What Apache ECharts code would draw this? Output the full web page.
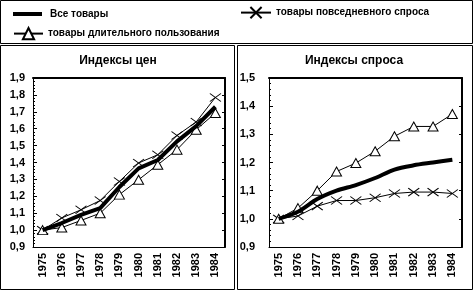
<!DOCTYPE html>
<html><head><meta charset="utf-8">
<script src="https://cdn.jsdelivr.net/npm/echarts@6/dist/echarts.min.js"></script>
<style>html,body{margin:0;padding:0;background:#fff}#c{width:473px;height:290px}</style>
</head><body><div id="c"></div>
<script>
const years = ['1975','1976','1977','1978','1979','1980','1981','1982','1983','1984'];
const seriesNames = ['Все товары','товары повседневного спроса','товары длительного пользования'];
const titles = ['Индексы цен','Индексы спроса'];
// Price indices
const priceAll   = [1.00,1.042,1.09,1.13,1.255,1.365,1.415,1.525,1.615,1.73];
const priceDaily = [1.00,1.072,1.12,1.175,1.288,1.397,1.446,1.56,1.64,1.785];
const priceDurable=[1.00,1.015,1.057,1.10,1.21,1.298,1.387,1.476,1.594,1.693];
// Demand indices
const demandAll   = [1.00,1.025,1.07,1.10,1.12,1.145,1.175,1.19,1.20,1.21];
const demandDaily = [1.00,1.01,1.045,1.065,1.065,1.075,1.09,1.095,1.095,1.09];
const demandDurable=[1.00,1.038,1.10,1.168,1.198,1.24,1.293,1.328,1.328,1.372];
const priceAxis = {min:0.9,max:1.9,step:0.1};
const demandAxis = {min:0.9,max:1.5,step:0.1};

const FONT = 'Arial, "Liberation Sans", sans-serif';
const chart = echarts.init(document.getElementById('c'), null, {renderer:'canvas'});
const xSym = 'path://M0,0L10,7M10,0L0,7';
function grids(){ return [
  {left:33, top:78, width:192, height:169},
  {left:269, top:78, width:193, height:169}
];}
function xAxes(){
  const a=[];
  [0,1].forEach(g=>{
    a.push({type:'category', gridIndex:g, data:years, boundaryGap:true,
      axisLine:{lineStyle:{color:'#000',width:1}},
      axisTick:{alignWithLabel:true, length:4, lineStyle:{color:'#000'}},
      axisLabel:{rotate:90, margin:6, color:'#000', fontSize:11, fontWeight:'bold', fontFamily:FONT}});
    a.push({type:'category', gridIndex:g, position:'top', data:years, boundaryGap:true,
      axisLine:{lineStyle:{color:'#000',width:2}},
      axisTick:{alignWithLabel:true, inside:true, length:3, lineStyle:{color:'#000'}},
      axisLabel:{show:false}});
  });
  return a;
}
function fmt(v){return v.toFixed(1).replace('.',',');}
function yAxes(){
  const a=[];
  [[0,priceAxis,8],[1,demandAxis,14]].forEach(([g,ax,m])=>{
    a.push({type:'value', gridIndex:g, min:ax.min, max:ax.max, interval:ax.step,
      axisLine:{show:true, lineStyle:{color:'#000',width:1}},
      axisTick:{show:true, inside:true, length:4, lineStyle:{color:'#000'}},
      minorTick:{show:true, splitNumber:5, length:2, lineStyle:{color:'#000'}},
      splitLine:{show:false},
      axisLabel:{margin:m, color:'#000', fontSize:11, fontWeight:'bold', fontFamily:FONT, formatter:fmt}});
    a.push({type:'value', gridIndex:g, position:'right', min:ax.min, max:ax.max, interval:ax.step,
      axisLine:{show:true, lineStyle:{color:'#000',width:2}},
      axisTick:{show:true, inside:true, length:3, lineStyle:{color:'#000'}},
      splitLine:{show:false}, axisLabel:{show:false}});
  });
  return a;
}
function mk(name, data, g, kind){
  const s = {name, type:'line', data, xAxisIndex:g*2, yAxisIndex:g*2, animation:false};
  if(kind==='all'){
    Object.assign(s,{symbol:'none', lineStyle:{color:'#000', width:4}, itemStyle:{color:'#000'}, z:5, smooth: g===1 ? 0.3 : false});
  } else if(kind==='daily'){
    Object.assign(s,{symbol:xSym, symbolSize:[11,8], showAllSymbol:true,
      lineStyle:{color:'#000', width:1}, itemStyle:{color:'#000', borderColor:'#000', borderWidth:1}, z:3});
  } else {
    Object.assign(s,{symbol:'triangle', symbolSize:[10,9], showAllSymbol:true,
      lineStyle:{color:'#000', width:1}, itemStyle:{color:'#fff', borderColor:'#000', borderWidth:1}, z:4});
  }
  return s;
}
const legendText = {color:'#000', fontSize:10, fontWeight:'bold', fontFamily:FONT};
chart.setOption({
  backgroundColor:'#fff',
  animation:false,
  legend:[
    {left:13, top:9, padding:0, itemWidth:29, itemHeight:4, icon:'rect', itemGap:8, data:[seriesNames[0]], textStyle:Object.assign({padding:[0,0,0,3]},legendText), selectedMode:false},
    {left:13, top:27, padding:0, itemWidth:29, itemHeight:14, data:[seriesNames[2]], textStyle:legendText, selectedMode:false},
    {left:240, top:6, padding:0, itemWidth:30, itemHeight:14, data:[seriesNames[1]], textStyle:legendText, selectedMode:false}
  ],
  grid:grids(), xAxis:xAxes(), yAxis:yAxes(),
  series:[
    mk(seriesNames[1], priceDaily, 0, 'daily'),
    mk(seriesNames[2], priceDurable, 0, 'durable'),
    mk(seriesNames[0], priceAll, 0, 'all'),
    mk(seriesNames[1], demandDaily, 1, 'daily'),
    mk(seriesNames[2], demandDurable, 1, 'durable'),
    mk(seriesNames[0], demandAll, 1, 'all')
  ],
  graphic:[
    {type:'rect', shape:{x:0.5,y:0.5,width:472,height:43}, style:{fill:'none', stroke:'#000', lineWidth:1}, silent:true},
    {type:'rect', shape:{x:0.5,y:45.5,width:234,height:244}, style:{fill:'none', stroke:'#000', lineWidth:1}, silent:true},
    {type:'rect', shape:{x:237.5,y:45.5,width:235,height:244}, style:{fill:'none', stroke:'#000', lineWidth:1}, silent:true},
    {type:'text', x:118, y:55, style:{text:titles[0], textAlign:'center', textVerticalAlign:'top', fill:'#000', font:'bold 12px '+FONT}},
    {type:'text', x:354, y:55, style:{text:titles[1], textAlign:'center', textVerticalAlign:'top', fill:'#000', font:'bold 12px '+FONT}}
  ]
});
</script></body></html>
